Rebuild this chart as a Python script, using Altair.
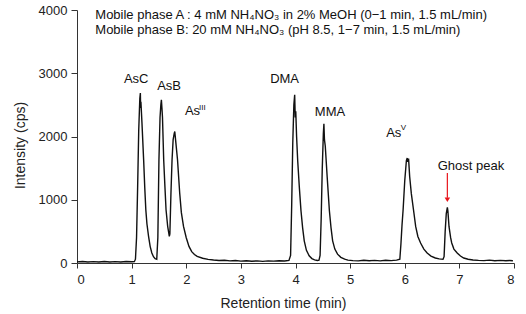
import altair as alt
import pandas as pd

# ---- chromatogram trace (retention time in min, intensity in cps) ----
time_min = [
    0.00, 0.10, 0.20, 0.30, 0.40, 0.50, 0.60, 0.70, 0.80, 0.90, 1.00, 1.05, 1.07,
    1.09, 1.11, 1.13, 1.15, 1.16, 1.165, 1.17, 1.19, 1.22, 1.24, 1.26, 1.28, 1.31,
    1.34, 1.37, 1.40, 1.43, 1.46,
    1.48, 1.50, 1.52, 1.535, 1.545, 1.555, 1.565, 1.587, 1.61, 1.63, 1.66, 1.69, 1.70,
    1.72, 1.74, 1.76, 1.78, 1.79, 1.81, 1.84, 1.88, 1.91, 1.95, 2.00, 2.05, 2.10,
    2.15, 2.20, 2.30, 2.40, 2.50, 2.60, 2.70, 2.80, 2.90, 3.00, 3.10, 3.20,
    3.30, 3.40, 3.50, 3.60, 3.70, 3.80, 3.88, 3.91,
    3.93, 3.95, 3.97, 3.985, 3.995, 4.005, 4.02, 4.04, 4.07, 4.10, 4.13, 4.16, 4.20,
    4.25, 4.30, 4.35, 4.40, 4.43, 4.45,
    4.47, 4.49, 4.51, 4.52, 4.53, 4.545, 4.58, 4.62, 4.65, 4.68, 4.72, 4.77, 4.83,
    4.90, 4.96, 5.05, 5.15, 5.25, 5.35, 5.45, 5.55, 5.65, 5.75, 5.85, 5.91,
    5.93, 5.95, 5.97, 6.00, 6.03, 6.045, 6.055, 6.07, 6.09, 6.12, 6.16, 6.20, 6.24,
    6.29, 6.35, 6.41, 6.48, 6.56, 6.63, 6.70,
    6.72, 6.74, 6.76, 6.78, 6.79, 6.81, 6.84, 6.86, 6.90, 6.96, 7.02, 7.08, 7.16, 7.25,
    7.35, 7.45, 7.55, 7.65, 7.75, 7.85, 7.92, 7.98,
]
intensity_cps = [
    18, 24, 15, 21, 16, 24, 17, 22, 15, 23, 19, 21, 60,
    400, 1200, 2100, 2600, 2686, 2450, 2550, 2200, 1630, 1200, 840, 620, 420,
    260, 158, 100, 68, 60,
    400, 1630, 2300, 2500, 2580, 2450, 2300, 1632, 1200, 842, 580, 420, 460,
    1106, 1632, 1950, 2050, 2079, 1900, 1632, 1106, 800, 578, 400, 262, 180,
    135, 104, 75, 58, 48, 40, 44, 33, 39, 30, 36, 28,
    34, 26, 33, 29, 35, 31, 40, 120,
    900, 1900, 2500, 2660, 2300, 2400, 2000, 1620, 1200, 830, 560, 350, 200,
    115, 70, 50, 40, 45, 120,
    700, 1500, 2050, 2200, 1950, 1850, 1360, 830, 560, 350, 220, 140, 90,
    60, 45, 38, 34, 44, 35, 42, 33, 44, 38, 46, 60,
    300, 600, 842, 1300, 1620, 1659, 1600, 1650, 1368, 1100, 842, 578, 420,
    316, 220, 158, 110, 79, 65, 58,
    100, 500, 780, 878, 820, 578, 400, 316, 220, 158, 110, 79, 60, 48,
    42, 38, 45, 36, 41, 35, 39, 36,
]

# ---- peak labels ----
label_text = ["AsC", "AsB", "DMA", "MMA", "Ghost peak"]
label_time = [1.083, 1.686, 3.80, 4.632, 7.211]
label_cps = [2844, 2738, 2853, 2327, 1474]

as_text = ["As", "As"]
as_time = [1.975, 5.66]
as_cps = [2343, 2000]
sup_text = ["III", "V"]
sup_time = [2.235, 5.925]
sup_cps = [2420, 2095]

# ---- header lines ----
header_text = [
    "Mobile phase A : 4 mM NH\u2084NO\u2083  in 2% MeOH (0\u22121 min, 1.5 mL/min)",
    "Mobile phase B: 20 mM NH\u2084NO\u2083  (pH 8.5, 1\u22127 min, 1.5 mL/min)",
]
header_time = [0.335, 0.335]
header_cps = [3851, 3614]

# ---- ghost-peak arrow ----
arrow_time = [6.78]
arrow_top = [1422]
arrow_bottom = [1030]
arrow_head = [1000]

FONT = "Liberation Sans"

trace = pd.DataFrame({"t": time_min, "y": intensity_cps})
labels = pd.DataFrame({"t": label_time, "y": label_cps, "txt": label_text})
as_df = pd.DataFrame({"t": as_time, "y": as_cps, "txt": as_text})
sup_df = pd.DataFrame({"t": sup_time, "y": sup_cps, "txt": sup_text})
header = pd.DataFrame({"t": header_time, "y": header_cps, "txt": header_text})
arrow = pd.DataFrame({"t": arrow_time, "y1": arrow_top, "y2": arrow_bottom, "yh": arrow_head})

xscale = alt.Scale(domain=[0, 8], nice=False)
yscale = alt.Scale(domain=[0, 4000], nice=False)

x_axis = alt.Axis(
    title="Retention time (min)", values=list(range(0, 9)), format="d",
    grid=False, tickSize=5, labelPadding=5, labelFontSize=13, titleFontSize=14,
    titleFontWeight="normal", titleX=206, titleY=40, titleBaseline="middle",
    domainColor="#333", tickColor="#333", labelColor="#222", titleColor="#222",
    labelFont=FONT, titleFont=FONT,
)
y_axis = alt.Axis(
    title="Intensity (cps)", values=[0, 1000, 2000, 3000, 4000], format="d",
    grid=False, tickSize=6, labelPadding=4, labelFontSize=13, titleFontSize=14,
    titleFontWeight="normal", titleX=-57, titleY=135, titleAngle=-90,
    titleAlign="center", titleBaseline="middle",
    domainColor="#333", tickColor="#333", labelColor="#222", titleColor="#222",
    labelFont=FONT, titleFont=FONT,
)

line = alt.Chart(trace).mark_line(color="#111", strokeWidth=1.4).encode(
    x=alt.X("t:Q", scale=xscale, axis=x_axis),
    y=alt.Y("y:Q", scale=yscale, axis=y_axis),
)

lbl = alt.Chart(labels).mark_text(
    font=FONT, fontSize=13, color="#111", align="center", baseline="alphabetic"
).encode(x=alt.X("t:Q", scale=xscale), y=alt.Y("y:Q", scale=yscale), text="txt:N")

as_lbl = alt.Chart(as_df).mark_text(
    font=FONT, fontSize=13, color="#111", align="left", baseline="alphabetic"
).encode(x=alt.X("t:Q", scale=xscale), y=alt.Y("y:Q", scale=yscale), text="txt:N")

sup_lbl = alt.Chart(sup_df).mark_text(
    font=FONT, fontSize=8, color="#111", align="left", baseline="alphabetic"
).encode(x=alt.X("t:Q", scale=xscale), y=alt.Y("y:Q", scale=yscale), text="txt:N")

head = alt.Chart(header).mark_text(
    font=FONT, fontSize=13, color="#111", align="left", baseline="alphabetic"
).encode(x=alt.X("t:Q", scale=xscale), y=alt.Y("y:Q", scale=yscale), text="txt:N")

arrow_line = alt.Chart(arrow).mark_rule(color="#e8141c", strokeWidth=1.2).encode(
    x=alt.X("t:Q", scale=xscale), y=alt.Y("y1:Q", scale=yscale), y2="y2:Q"
)
arrow_tip = alt.Chart(arrow).mark_point(
    shape="triangle-down", filled=True, color="#e8141c", size=30, opacity=1
).encode(x=alt.X("t:Q", scale=xscale), y=alt.Y("yh:Q", scale=yscale))

chart = alt.layer(line, lbl, as_lbl, sup_lbl, head, arrow_line, arrow_tip).properties(
    width=437, height=253,
    autosize=alt.AutoSizeParams(type="none"),
    padding={"left": 77, "top": 10, "right": 12, "bottom": 51},
    background="white",
).configure_view(stroke=None)

chart.save("out.html", embed_options={"renderer": "svg", "actions": False})
